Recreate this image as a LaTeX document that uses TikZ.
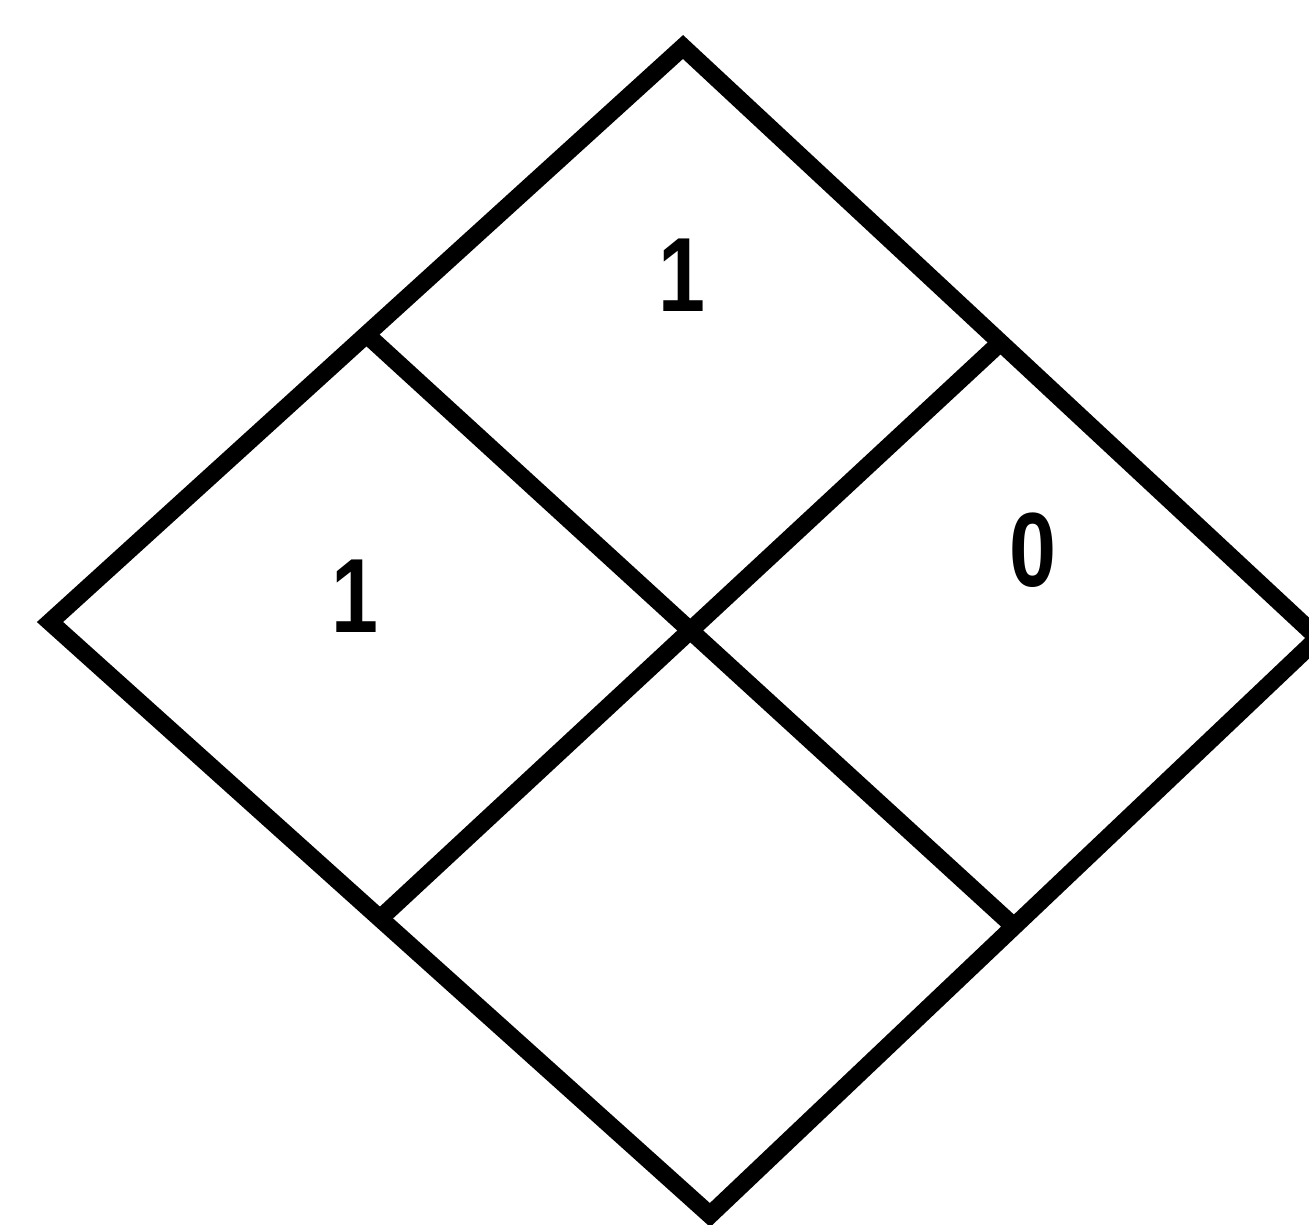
\documentclass[tikz,border=0pt]{standalone}
\usepackage{fontspec}
\newfontfamily\digitfont{Liberation Sans Bold}
\usetikzlibrary{calc}
\tikzset{
  edge/.style={line width=5pt, line join=miter, black},
  digit/.style={font=\digitfont\fontsize{30}{30}\selectfont, inner sep=0pt, xscale=0.8}
}
\begin{document}
\begin{tikzpicture}[x=0.01cm,y=-0.01cm]
\useasboundingbox (0,0) rectangle (1309,1224);
\fill[white] (0,0) rectangle (1309,1224);
\coordinate (T) at (683,47);
\coordinate (L) at (50,622);
\coordinate (B) at (710,1215);
\coordinate (R) at (1318,638);
\coordinate (TL) at ($(T)!0.5!(L)$);
\coordinate (TR) at ($(T)!0.5!(R)$);
\coordinate (BL) at ($(B)!0.5!(L)$);
\coordinate (BR) at ($(B)!0.5!(R)$);
\draw[edge] (T) -- (R) -- (B) -- (L) -- cycle;
\draw[edge] (TL) -- (BR);
\draw[edge] (TR) -- (BL);
\node[digit] (top) at (682,275) {1};
\node[digit] (left) at (355,596) {1};
\node[digit] (right) at (1033,550) {0};
\end{tikzpicture}
\end{document}
